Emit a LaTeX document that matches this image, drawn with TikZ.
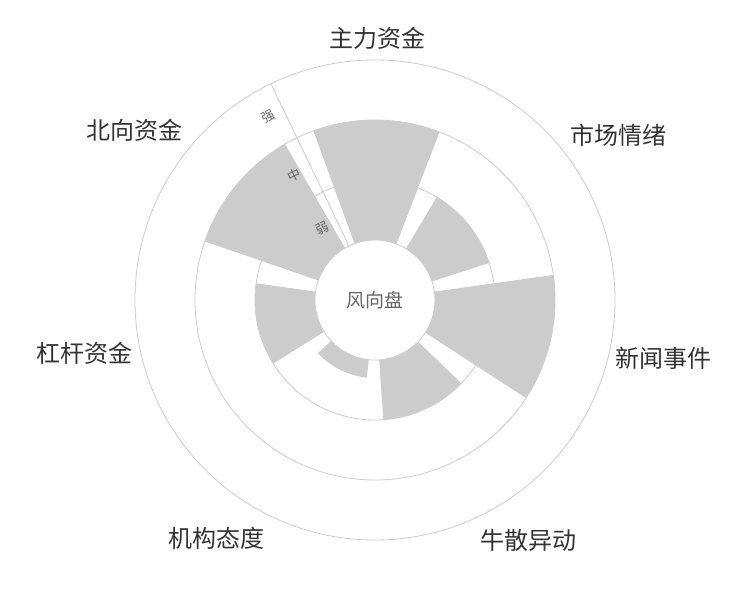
\documentclass[tikz,border=0pt]{standalone}
\usepackage{fontspec}
\newfontfamily\cjk{Noto Sans CJK SC}
\definecolor{barfill}{HTML}{CCCCCC}
\definecolor{ringline}{HTML}{CCCCCC}
\definecolor{labeltext}{HTML}{333333}
\definecolor{axistext}{HTML}{666666}
% compass angle a..b, radius r1..r2
\newcommand{\windbar}[4]{%
  \fill[barfill] (90-#1:#3pt) arc[start angle=90-#1, end angle=90-#2, radius=#3pt]
    -- (90-#2:#4pt) arc[start angle=90-#2, end angle=90-#1, radius=#4pt] -- cycle;}
\begin{document}
\begin{tikzpicture}[x=1pt,y=1pt,
  catlabel/.style={font=\cjk\fontsize{24}{28}\selectfont, text=labeltext, inner sep=0pt},
  levellabel/.style={font=\cjk\fontsize{13}{15}\selectfont, text=axistext, rotate=25.7, inner sep=0pt}]
\useasboundingbox (-375,-300) rectangle (375,300);

% Rings
\foreach \r in {60,120,180,240}
  \draw[ringline, line width=0.8pt] (0,0) circle (\r pt);

% Bars
\windbar{-20}{21}{60}{180}
\windbar{31}{72}{60}{120}
\windbar{82}{123}{60}{180}
\windbar{134}{176}{60}{120}
\windbar{186}{227}{60}{78}
\windbar{238}{278}{60}{120}
\windbar{289}{330}{60}{180}

% Radial axis
\draw[ringline, line width=0.8pt] (115.7:60pt) -- (115.7:240pt);
\node[levellabel] (weak) at (-53,72) {弱};
\node[levellabel] (mid) at (-81,125) {中};
\node[levellabel] (strong) at (-107,183) {强};

% Centre
\node[font=\cjk\fontsize{19}{22}\selectfont, text=axistext] (hub) at (0,0) {风向盘};

% Categories
\node[catlabel] (main) at (3,262) {主力资金};
\node[catlabel, anchor=west] (mood) at (195,165) {市场情绪};
\node[catlabel, anchor=west] (news) at (240,-58) {新闻事件};
\node[catlabel, anchor=west] (retail) at (105,-240) {牛散异动};
\node[catlabel, anchor=east] (inst) at (-110,-238) {机构态度};
\node[catlabel, anchor=east] (lever) at (-242,-53) {杠杆资金};
\node[catlabel, anchor=east] (north) at (-192,170) {北向资金};
\end{tikzpicture}
\end{document}
